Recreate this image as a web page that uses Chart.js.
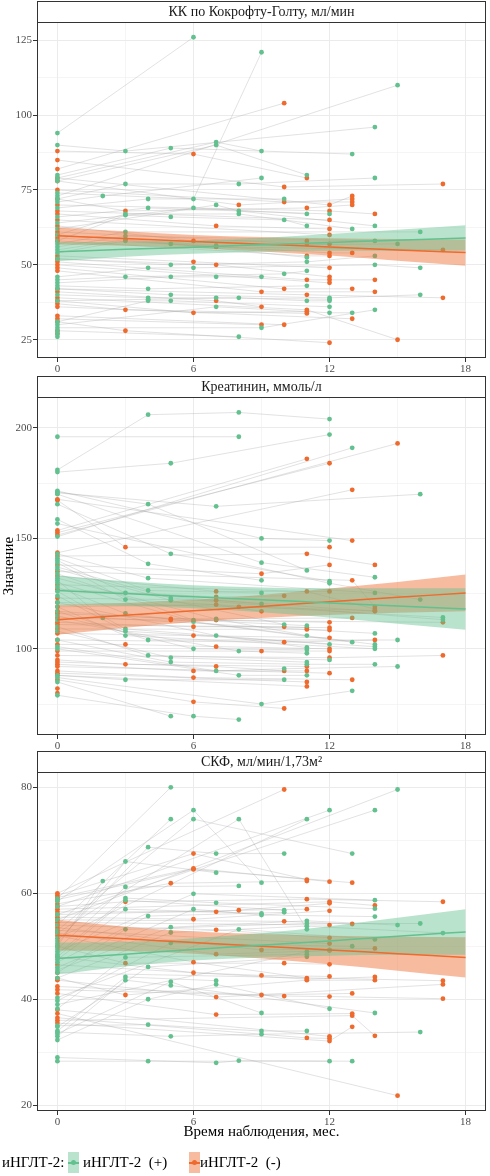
<!DOCTYPE html>
<html><head><meta charset="utf-8">
<script src="https://cdn.jsdelivr.net/npm/chart.js@4.4.1/dist/chart.umd.min.js"></script>
<style>
html,body{margin:0;padding:0;background:#fff;}
#wrap{position:relative;width:490px;height:1176px;overflow:hidden;font-family:'Liberation Serif',serif;}
canvas{position:absolute;left:0;}
.lg{position:absolute;top:1152px;height:21px;line-height:21px;font-size:15px;color:#000;white-space:pre;}
.kbox{position:absolute;top:1152px;width:11px;height:21px;}
.kline{position:absolute;left:0;top:10px;width:11px;height:1.5px;}
.kdot{position:absolute;left:3px;top:8px;width:5px;height:5px;border-radius:50%;}
</style></head>
<body><div id="wrap">
<canvas id="c1" width="490" height="375" style="top:0px"></canvas>
<canvas id="c2" width="490" height="375" style="top:375px"></canvas>
<canvas id="c3" width="490" height="426" style="top:750px"></canvas>
<div class="lg" style="left:2px">иНГЛТ-2:</div>
<div class="kbox" style="left:68px;background:rgba(99,193,143,0.45)"><div class="kline" style="background:#63C18F"></div><div class="kdot" style="background:#63C18F"></div></div>
<div class="lg" style="left:83px">иНГЛТ-2  (+)</div>
<div class="kbox" style="left:189px;background:rgba(238,106,45,0.45)"><div class="kline" style="background:#EE6A2D"></div><div class="kdot" style="background:#EE6A2D"></div></div>
<div class="lg" style="left:200px">иНГЛТ-2  (-)</div>
</div>
<script>
// ---- ticks ----
const xTicks=[0,3,6,9,12,15,18], xMajor=[0,6,12,18];
const kkTicks=[25,37.5,50,62.5,75,87.5,100,112.5,125], kkMajor=[25,50,75,100,125];
const crTicks=[75,100,125,150,175,200], crMajor=[100,150,200];
const gfrTicks=[20,30,40,50,60,70,80], gfrMajor=[20,40,60,80];

// ---- patients: flat [month, value, month, value, ...] ----
const kkPlus=[
[0,94,6,126],[0,90,3,88,14,96],[0,80,5,89,13,87],[0,79,7,91,9,88],[0,78,7,90,11,80],
[0,74,6,72,9,121],[0,73,15,110],[0,72,3,77,8,77,14,79],[0,71,2,73,9,79],[0,69,4,72,10,72],
[0,66,4,69,12,67],[0,64,6,69,11,67],[0,62,7,70,8,68,14,63],[0,60,3,67,8,67,13,62],
[0,58,3,66.6,5,66,10,65,11,63],[0,57,3,61,16,61],[0,56,3,59.6,14,58],[0,55,3,58.5,7,56.5,15,57],
[0,54,3,58,5,57,11,52.5],[0,52,5,50,11,51,14,53],[0,46,4,49,6,49,14,50,16,49],[0,45,3,46,10,47,11,48],
[0,44,5,46,7,46,9,46],[0,43,4,42,11,43],[0,42,5,40,12,39,16,40],[0,40,4,39,7,39,12,38.5],
[0,38,4,38.5,8,39,11,38,12,38],[0,31,4,38,5,38,12,36],[0,30,7,36,12,34,13,34],[0,29,9,29,14,35],
[0,28,8,26],[0,27],[0,26]];
const kkMinus=[
[0,88,6,87,11,79],[0,85,10,76,17,77],[0,82,10,104],[0,79,12,70,13,73],[0,78,8,70,13,72],
[0,75,10,71,13,71],[0,72,3,68,11,69,13,70],[0,70,12,68,14,67],[0,68,12,65],[0,67,7,63,12,62],
[0,65,12,60],[0,63,6,58,11,58],[0,61,11,57,12,57],[0,60,7,56,17,55],[0,59,12,54,13,54],
[0,58,11,53,12,53],[0,53,6,51,12,49],[0,52,7,50,12,46],[0,51,11,45,12,45,14,45],[0,50,12,44],
[0,49,10,42,13,42],[0,48,9,41,14,41],[0,42,11,40,17,39],[0,41,7,38,9,36],[0,39,11,35,15,25],
[0,38,6,34,11,34.4],[0,37,3,35,11,33.8],[0,36,13,32],[0,33,10,30],[0,32,9,30],[0,31,3,28,12,24],
[0,28],[0,27]];
const crPlus=[
[0,196,8,196],[0,181,4,206,8,207,12,204],[0,180,5,184,12,197],[0,171.5,9,150,12,149],
[0,171,4,165.5,11,135.5],[0,170.6,7,164.5,16,170],[0,170,9,139,14,132.4],[0,165.5,5,143,12,130.6],
[0,158.6,4,138.5,9,131],[0,156.7,12,129.7,16,122.3],[0,150.8,13,191],[0,143,4,132,14,125.3],
[0,141,4,126.4,9,125.3],[0,140,3,125.3,9,120.3],[0,139,3,122.3,17,114.2],[0,137,5,123,17,113.2],
[0,136,5,122,10,111],[0,134,6,113,11,110.5],[0,132,7,113.5,11,106],[0,131,2,114,14,107],
[0,130,6,112.3,14,102],[0,128,3,116,13,103],[0,126,3,109,12,102],[0,124,3,108,14,101],
[0,121,7,106,11,100.6],[0,119,3,106,14,100],[0,117,4,104,15,104],[0,115,6,100,11,99.6],
[0,113,8,99,11,98],[0,110,4,97,12,95],[0,108,5,96,11,94],[0,104,5,94,11,93,14,93],
[0,101,7,90,10,91,15,92],[0,100,8,88,11,88],[0,88,3,86,10,86],[0,87,9,75,13,81],
[0,85,5,69.5],[0,79,6,69.5,8,68]];
const crMinus=[
[0,167.7,13,149],[0,167.3,3,146,12,146],[0,153.6,11,186],[0,152.6,12,184],[0,151.5,15,193],
[0,143.5,13,172],[0,142,11,143,14,138],[0,138,9,134,12,138],[0,135,13,131,14,119],[0,133,7,126,12,126],
[0,129,11,126,14,118],[0,127,7,123.5,10,124],[0,123,7,122,14,117],[0,121,8,119,14,117.3],
[0,119,7,120,9,117],[0,117,5,113.5,13,114],[0,116,7,113,12,112],[0,114,5,113,17,112],
[0,112,6,110,10,110,11,109.6],[0,111,12,109.6],[0,109,11,108.8,12,108.5],[0,107,6,106,12,105],
[0,104,10,103,14,104],[0,102,3,102,7,101,12,100],[0,99,9,99,12,99],[0,97,12,96,17,97],
[0,95,3,93,11,92],[0,94,7,92,10,90],[0,93,6,90,11,90],[0,92,12,89],[0,90,6,87,13,86],
[0,89,11,85],[0,88,11,83],[0,86,6,76,10,73],[0,82],[0,80]];
const gfrPlus=[
[0,59,5,80],[0,58.5,6,75.7,9,62],[0,57.5,12,75.7],[0,56,14,75.7],[0,55,15,79.6],[0,54,5,74],
[0,53,6,74,13,67.5],[0,52.5,8,74,11,53.2],[0,51.5,11,74],[0,51,4,68.7,7,67.5,10,67.5],
[0,50.5,3,66,7,63.9],[0,50,2,62.3],[0,49.5,3,61.2,8,61.4],[0,49,6,59.9,14,58.7],
[0,48.5,3,59.1,7,58.2,14,57.1],[0,48,3,58.7,10,56.8],[0,47.5,3,57,9,56.2],[0,47,4,55.7,10,56.4],
[0,46,6,57,9,55.9,14,55.6],[0,45.5,5,53.6,11,54.8,15,54],[0,45,3,53.2,11,54.3,16,54.3],
[0,44,5,52.6,11,53.8,17,52.5],[0,40.3,8,53.2,14,51.3],[0,39.7,5,50.6,13,50],[0,39,11,49,12,49.3],
[0,38.2,3,47.9,11,48.5],[0,34.8,4,46.1,11,48],[0,34,3,44.2,7,43.5],[0,33.5,5,43.3,9,37.4],
[0,33,3,43.6,5,42.6,14,37.4],[0,32.3,4,40,7,42.8,12,38.2],[0,35,4,35.2,9,34,11,34],
[0,33.8,5,33,9,33.4,16,33.8],[0,29,7,28,8,28.4,13,28.3],[0,28.3,4,28.3,12,28.3]];
const gfrMinus=[
[0,60,10,79.6],[0,59.6,6,67.5,11,62.6],[0,59.2,6,64.7,12,62.2],[0,58.8,6,64.5,13,62],
[0,58,5,61.9,11,62.3],[0,57.5,3,58.4,11,58.9,17,58.4],[0,57,12,58.4,14,57.7],[0,56.5,7,56.5,12,58.1],
[0,56,8,56.8,11,57],[0,55.5,6,55.1,12,56.7],[0,55,10,54.7,13,54.2],[0,54.5,12,54],
[0,54,7,53.1,12,51.6],[0,53.5,9,49.3,14,49.6],[0,53,12,50.5],[0,52.5,7,48.5,12,49.2],
[0,52,6,47,11,44],[0,50,3,46.8,10,46.8,12,46.6],[0,48,6,45,9,44.5,12,44.3],[0,46.5,11,43.8,14,44.2],
[0,45,17,43.5],[0,44,3,40.8,11,43.6,14,43.6],[0,43.6,7,40.4,17,42.8],[0,42.4,9,40.8,13,41.1],
[0,41.8,10,40.6,12,40.5,17,40.1],[0,41.1,7,37.1,13,37.3],[0,37.3,15,21.8],[0,36,13,36.9,14,33.1],
[0,38,12,33],[0,36.5,11,32.7,12,32.6],[0,35.5,12,32.1,13,34.8]];

// ---- linear fits and confidence bands ----
const fitX=[0,3,6,9,12,15,18];
const kkPlusFit=[54.4,55.2,55.9,56.7,57.5,58.2,59.0];
const kkPlusLo=[51.2,52.7,53.7,54.4,54.7,54.7,54.8];
const kkPlusHi=[57.6,57.7,58.1,59.0,60.3,61.7,63.2];
const kkMinusFit=[59.7,58.8,57.8,56.9,56.0,55.0,54.1];
const kkMinusLo=[56.8,56.4,55.6,54.5,53.1,51.4,49.7];
const kkMinusHi=[62.6,61.2,60.0,59.3,58.9,58.6,58.5];
const crPlusFit=[126.4,125.0,123.6,122.2,120.8,119.4,118.0];
const crPlusLo=[119.6,119.4,118.4,116.6,114.2,111.4,108.6];
const crPlusHi=[133.2,130.6,128.8,127.8,127.4,127.4,127.4];
const crMinusFit=[113.2,115.2,117.2,119.2,121.3,123.3,125.3];
const crMinusLo=[106.4,109.6,112.2,114.0,115.3,116.3,117.0];
const crMinusHi=[120.0,120.8,122.2,124.4,127.3,130.3,133.6];
const gfrPlusFit=[47.7,48.5,49.4,50.2,51.0,51.9,52.7];
const gfrPlusLo=[44.7,46.2,47.3,47.9,48.2,48.4,48.4];
const gfrPlusHi=[50.7,50.8,51.5,52.5,53.8,55.4,57.0];
const gfrMinusFit=[52.1,51.4,50.7,50.0,49.3,48.6,47.9];
const gfrMinusLo=[49.2,49.1,48.6,47.7,46.6,45.4,44.1];
const gfrMinusHi=[55.0,53.7,52.8,52.3,52.0,51.8,51.7];

const GREEN='#63C18F', ORANGE='#EE6A2D';
const GREEN_F='rgba(99,193,143,0.45)', ORANGE_F='rgba(238,106,45,0.45)';
const FONT="'Liberation Serif', 'Times New Roman', serif";

function linePts(pats){const o=[];pats.forEach(p=>{for(let i=0;i<p.length;i+=2)o.push({x:p[i],y:p[i+1]});o.push({x:p[p.length-2],y:null});});return o;}
function dotPts(pats){const o=[];pats.forEach(p=>{for(let i=0;i<p.length;i+=2)o.push({x:p[i],y:p[i+1]});});return o;}
function fitPts(ys){return fitX.map((x,i)=>({x:x,y:ys[i]}));}

const facetPlugin={id:'facet',
  afterDraw(chart,args,opts){
    const {ctx,chartArea:a}=chart;
    ctx.save();
    ctx.strokeStyle='#333';ctx.lineWidth=1;
    ctx.strokeRect(a.left+0.5,a.top+0.5,a.right-a.left-1,a.bottom-a.top-1);
    ctx.fillStyle='#fff';
    ctx.fillRect(a.left,a.top-21,a.right-a.left,21);
    ctx.strokeRect(a.left+0.5,a.top-21+0.5,a.right-a.left-1,21);
    ctx.fillStyle='#1a1a1a';ctx.font='14px '+FONT;ctx.textAlign='center';ctx.textBaseline='middle';
    ctx.fillText(opts.text,(a.left+a.right)/2,a.top-10);
    ctx.restore();
  }};

function makePanel(id,spec){
  const ds=[
    {type:'line',data:fitPts(spec.plusFit),borderColor:GREEN,borderWidth:1.5,pointRadius:0,fill:false,order:0,cubicInterpolationMode:'monotone'},
    {type:'line',data:fitPts(spec.minusFit),borderColor:ORANGE,borderWidth:1.5,pointRadius:0,fill:false,order:0,cubicInterpolationMode:'monotone'},
    {type:'line',data:fitPts(spec.plusHi),borderWidth:0,borderColor:'rgba(0,0,0,0)',pointRadius:0,fill:'+1',backgroundColor:GREEN_F,order:1,cubicInterpolationMode:'monotone'},
    {type:'line',data:fitPts(spec.plusLo),borderWidth:0,borderColor:'rgba(0,0,0,0)',pointRadius:0,fill:false,order:1,cubicInterpolationMode:'monotone'},
    {type:'line',data:fitPts(spec.minusHi),borderWidth:0,borderColor:'rgba(0,0,0,0)',pointRadius:0,fill:'+1',backgroundColor:ORANGE_F,order:1,cubicInterpolationMode:'monotone'},
    {type:'line',data:fitPts(spec.minusLo),borderWidth:0,borderColor:'rgba(0,0,0,0)',pointRadius:0,fill:false,order:1,cubicInterpolationMode:'monotone'},
    {type:'scatter',data:dotPts(spec.plus),backgroundColor:GREEN,borderWidth:0,pointRadius:2.4,order:2},
    {type:'scatter',data:dotPts(spec.minus),backgroundColor:ORANGE,borderWidth:0,pointRadius:2.4,order:2},
    {type:'line',data:linePts(spec.plus.concat(spec.minus)),borderColor:'rgba(165,165,165,0.32)',borderWidth:1,pointRadius:0,spanGaps:false,fill:false,order:3}
  ];
  const isMajor=(arr,c)=>c.tick&&arr.includes(c.tick.value);
  new Chart(document.getElementById(id),{
    type:'scatter',
    data:{datasets:ds},
    options:{
      responsive:false,animation:false,devicePixelRatio:1,events:[],
      layout:{padding:{top:22,right:2,bottom:0,left:0}},
      plugins:{legend:{display:false},tooltip:{enabled:false},facet:{text:spec.strip}},
      scales:{
        x:{type:'linear',min:-0.9,max:18.9,
          afterBuildTicks:s=>{s.ticks=xTicks.map(v=>({value:v}));},
          afterFit:s=>{s.height=spec.xH;},
          border:{display:false},
          grid:{color:'#ebebeb',lineWidth:c=>isMajor(xMajor,c)?1:0.5,tickLength:4,tickWidth:1,
                tickColor:c=>isMajor(xMajor,c)?'#333':'rgba(0,0,0,0)'},
          ticks:{padding:1,color:'#4d4d4d',font:{family:FONT,size:11},maxRotation:0,autoSkip:false,
                 callback:v=>xMajor.includes(v)?String(v):''},
          title:spec.xTitle?{display:true,text:spec.xTitle,color:'#000',font:{family:FONT,size:15},padding:{top:0,bottom:35}}:{display:false}
        },
        y:{type:'linear',min:spec.yMin,max:spec.yMax,
          afterBuildTicks:s=>{s.ticks=spec.yTicks.map(v=>({value:v}));},
          afterFit:s=>{s.width=37;},
          border:{display:false},
          grid:{color:'#ebebeb',lineWidth:c=>isMajor(spec.yMajor,c)?1:0.5,tickLength:4,tickWidth:1,
                tickColor:c=>isMajor(spec.yMajor,c)?'#333':'rgba(0,0,0,0)'},
          ticks:{padding:1,color:'#4d4d4d',font:{family:FONT,size:11},autoSkip:false,
                 callback:v=>spec.yMajor.includes(v)?String(v):''},
          title:spec.yTitle?{display:true,text:spec.yTitle,color:'#000',font:{family:FONT,size:15},padding:0}:{display:false}
        }
      }
    },
    plugins:[facetPlugin]
  });
}

makePanel('c1',{strip:'КК по Кокрофту-Голту, мл/мин',plus:kkPlus,minus:kkMinus,
  plusFit:kkPlusFit,plusLo:kkPlusLo,plusHi:kkPlusHi,minusFit:kkMinusFit,minusLo:kkMinusLo,minusHi:kkMinusHi,
  yMin:18.9,yMax:131.1,yTicks:kkTicks,yMajor:kkMajor,xH:17});
makePanel('c2',{strip:'Креатинин, ммоль/л',plus:crPlus,minus:crMinus,
  plusFit:crPlusFit,plusLo:crPlusLo,plusHi:crPlusHi,minusFit:crMinusFit,minusLo:crMinusLo,minusHi:crMinusHi,
  yMin:61,yMax:214,yTicks:crTicks,yMajor:crMajor,xH:15,yTitle:'Значение'});
makePanel('c3',{strip:'СКФ, мл/мин/1,73м²',plus:gfrPlus,minus:gfrMinus,
  plusFit:gfrPlusFit,plusLo:gfrPlusLo,plusHi:gfrPlusHi,minusFit:gfrMinusFit,minusLo:gfrMinusLo,minusHi:gfrMinusHi,
  yMin:18.9,yMax:82.9,yTicks:gfrTicks,yMajor:gfrMajor,xH:65,xTitle:'Время наблюдения, мес.'});
</script>
</body></html>
